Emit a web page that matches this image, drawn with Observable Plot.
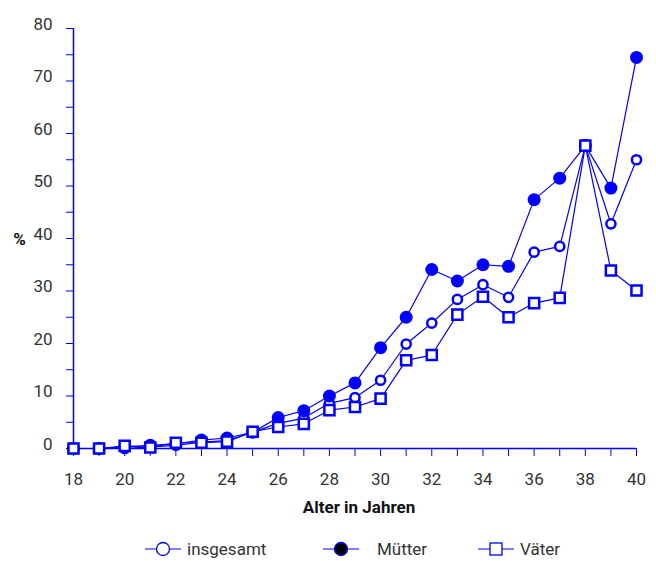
<!DOCTYPE html>
<html>
<head>
<meta charset="utf-8">
<script src="https://cdn.jsdelivr.net/npm/d3@7"></script>
<script src="https://cdn.jsdelivr.net/npm/@observablehq/plot@0.6"></script>
<style>
  body { margin: 0; background: #fff; }
  #wrap { position: relative; width: 656px; height: 561px; font-family: "Roboto", sans-serif; }
  #legend { position: absolute; left: 0; top: 525px; width: 656px; height: 36px; }
  .item { position: absolute; top: 14px; display: flex; align-items: center; font-size: 17px; color: #333; }
  .item svg { margin-right: 6px; }
</style>
</head>
<body>
<div id="wrap">
  <div id="chart"></div>
  <div id="legend"></div>
</div>
<script>
const ages = [18,19,20,21,22,23,24,25,26,27,28,29,30,31,32,33,34,35,36,37,38,39,40];
const insgesamt = [0,0,0,0.3,0.6,1.2,1.5,3.1,4.8,5.8,8.6,9.7,13.0,19.9,23.9,28.4,31.2,28.8,37.4,38.5,57.7,42.8,55.0];
const muetter   = [0,0,0.3,0.6,0.9,1.6,2.0,3.1,5.9,7.2,10.0,12.5,19.2,25.0,34.1,31.9,35.0,34.7,47.4,51.5,57.7,49.6,74.5];
const vaeter    = [0,0,0.5,0.2,1.1,1.1,1.3,3.2,4.1,4.7,7.3,7.9,9.5,16.8,17.8,25.5,28.9,25.0,27.7,28.7,57.7,33.9,30.1];
const seriesNames = ["insgesamt", "Mütter", "Väter"];
const xTicks = ages;
const yTicks = [0,5,10,15,20,25,30,35,40,45,50,55,60,65,70,75,80];
const yTickLabels = [0,10,20,30,40,50,60,70,80];
const yLabel = "%";
const xLabel = "Alter in Jahren";

const BLUE = "#0000ff";
const TEXT = "#333";

const rows = (vals) => ages.map((a, i) => ({age: a, v: vals[i]}));
const dIns = rows(insgesamt), dMu = rows(muetter), dVa = rows(vaeter);

const chart = Plot.plot({
  width: 656,
  height: 525,
  marginLeft: 73,
  marginRight: 20,
  marginTop: 28,
  marginBottom: 77,
  style: {fontFamily: '"Roboto", sans-serif', fontSize: "17px", color: TEXT, background: "#fff"},
  x: {domain: [18, 40]},
  y: {domain: [0, 80]},
  marks: [
    Plot.axisX({ticks: xTicks, tickSize: 8, tickPadding: 16, stroke: BLUE, fill: TEXT,
      tickFormat: d => d % 2 === 0 ? String(d) : "", label: null}),
    Plot.axisY({ticks: yTicks, tickSize: 7, stroke: BLUE, tickFormat: () => "", label: null}),
    Plot.axisY({ticks: yTickLabels, tickSize: 0, tickPadding: 21, dy: -4, fill: TEXT, stroke: "none", label: null}),
    Plot.ruleY([0], {stroke: BLUE, strokeWidth: 1.5}),
    Plot.ruleX([18], {stroke: BLUE, strokeWidth: 1.5}),
    Plot.text([yLabel], {frameAnchor: "left", textAnchor: "middle", dx: -54, dy: 1, fontWeight: "bold", fill: "#111", fontSize: 17}),
    Plot.text([xLabel], {frameAnchor: "bottom", dx: 4, dy: 64, fontWeight: "bold", fill: "#111", fontSize: 17}),
    Plot.line(dIns, {x: "age", y: "v", stroke: BLUE, strokeWidth: 1.2}),
    Plot.dot(dIns, {x: "age", y: "v", r: 4.6, stroke: BLUE, strokeWidth: 2.5, fill: "white"}),
    Plot.line(dMu, {x: "age", y: "v", stroke: BLUE, strokeWidth: 1.2}),
    Plot.dot(dMu, {x: "age", y: "v", r: 6.5, fill: BLUE, stroke: "none"}),
    Plot.line(dVa, {x: "age", y: "v", stroke: BLUE, strokeWidth: 1.2}),
    Plot.dot(dVa, {x: "age", y: "v", symbol: "square", r: 5.7, stroke: BLUE, strokeWidth: 2.5, fill: "white"})
  ]
});
document.getElementById("chart").appendChild(chart);

// Legend
const legend = document.getElementById("legend");
const items = [
  {name: seriesNames[0], left: 145, kind: "open"},
  {name: seriesNames[1], left: 323, kind: "filled"},
  {name: seriesNames[2], left: 478, kind: "square"}
];
const ns = "http://www.w3.org/2000/svg";
items.forEach(it => {
  const div = document.createElement("div");
  div.className = "item";
  div.style.left = it.left + "px";
  const svg = document.createElementNS(ns, "svg");
  svg.setAttribute("width", 36); svg.setAttribute("height", 16);
  const line = document.createElementNS(ns, "line");
  line.setAttribute("x1", 0); line.setAttribute("x2", 36); line.setAttribute("y1", 8); line.setAttribute("y2", 8);
  line.setAttribute("stroke", BLUE); line.setAttribute("stroke-width", 1.2);
  svg.appendChild(line);
  if (it.kind === "square") {
    const r = document.createElementNS(ns, "rect");
    r.setAttribute("x", 12); r.setAttribute("y", 2); r.setAttribute("width", 12); r.setAttribute("height", 12);
    r.setAttribute("fill", "white"); r.setAttribute("stroke", BLUE); r.setAttribute("stroke-width", 1.3);
    svg.appendChild(r);
  } else {
    const c = document.createElementNS(ns, "circle");
    c.setAttribute("cx", 18); c.setAttribute("cy", 8); c.setAttribute("r", 6.5);
    c.setAttribute("fill", it.kind === "filled" ? "black" : "white");
    c.setAttribute("stroke", BLUE); c.setAttribute("stroke-width", 1.3);
    svg.appendChild(c);
  }
  div.appendChild(svg);
  const span = document.createElement("span");
  span.textContent = it.name;
  if (it.kind === "filled") span.style.marginLeft = "12px";
  div.appendChild(span);
  legend.appendChild(div);
});
</script>
</body>
</html>
